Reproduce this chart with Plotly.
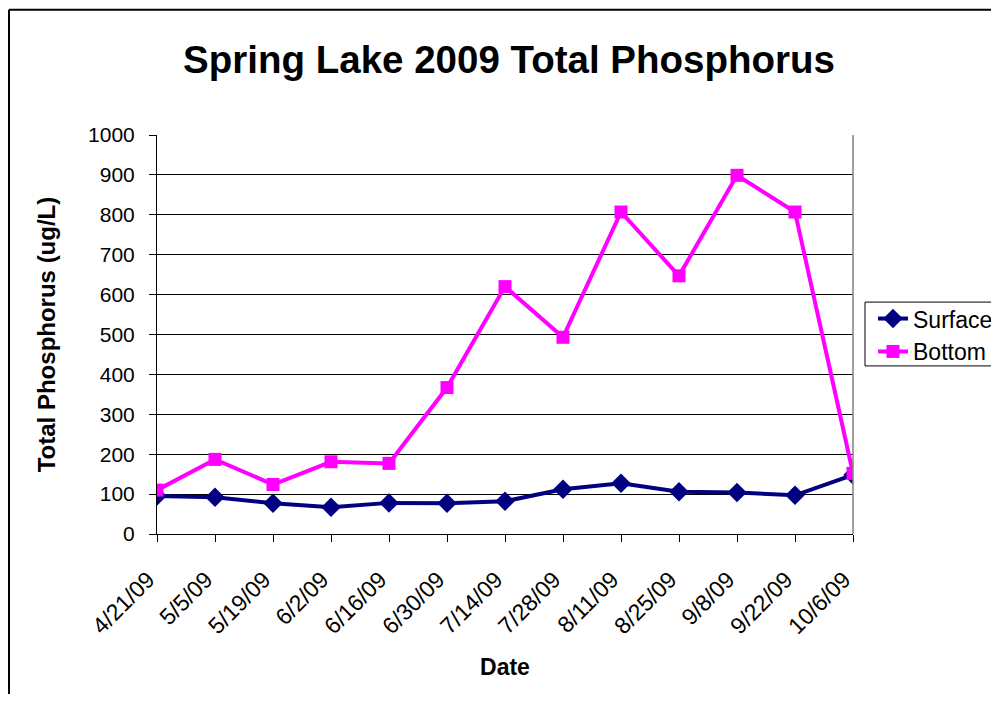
import plotly.graph_objects as go

dates = ["4/21/09", "5/5/09", "5/19/09", "6/2/09", "6/16/09", "6/30/09", "7/14/09",
         "7/28/09", "8/11/09", "8/25/09", "9/8/09", "9/22/09", "10/6/09"]
surface = [95, 92, 77, 67, 78, 77, 82, 112, 127, 106, 104, 97, 148]
bottom = [110, 187, 124, 181, 177, 367, 620, 493, 807, 647, 899, 807, 152]
y_ticks = [0, 100, 200, 300, 400, 500, 600, 700, 800, 900, 1000]

FONT = "Liberation Sans, Arial, sans-serif"

# figure geometry (page body has an 8px margin)
W, H = 991, 686
L, T = 149, 126.5
PW, PH = 696, 400
R = W - L - PW
B = H - T - PH


def px(x):  # figure pixel -> paper x
    return (x - L) / PW


def py(y):  # figure pixel -> paper y
    return (T + PH - y) / PH


fig = go.Figure()
fig.add_trace(go.Scatter(
    x=dates, y=surface, name="Surface", mode="lines+markers",
    line=dict(color="#000080", width=4),
    marker=dict(symbol="diamond", size=15, color="#000080"),
))
fig.add_trace(go.Scatter(
    x=dates, y=bottom, name="Bottom", mode="lines+markers",
    line=dict(color="#FF00FF", width=4),
    marker=dict(symbol="square", size=13, color="#FF00FF"),
))

fig.update_layout(
    width=W, height=H,
    margin=dict(l=L, r=R, t=T, b=B, pad=0, autoexpand=False),
    paper_bgcolor="white", plot_bgcolor="white",
    font=dict(family=FONT, color="black", size=21),
    title=dict(text="<b>Spring Lake 2009 Total Phosphorus</b>",
               font=dict(family=FONT, size=38.5, color="black"),
               x=(509 - 8) / W, xanchor="center", xref="container",
               y=1 - (60 - 8) / H, yanchor="middle", yref="container"),
    legend=dict(x=px(865), y=py(289), xanchor="left", yanchor="top",
                borderwidth=0, bgcolor="rgba(0,0,0,0)",
                font=dict(family=FONT, size=23, color="black"),
                tracegroupgap=0, itemwidth=30),
    showlegend=True,
)

fig.update_xaxes(
    type="category", range=[0, len(dates) - 1],
    showline=True, linecolor="black", linewidth=1,
    ticks="outside", ticklen=7, tickcolor="black", tickwidth=1,
    tickangle=-45, showgrid=False, zeroline=False,
    tickfont=dict(family=FONT, size=23, color="black"),
    ticklabelstandoff=15, ticklabelshift=-9,
    title=dict(text="<b>Date</b>", font=dict(family=FONT, size=23, color="black"), standoff=20),
)
fig.update_yaxes(
    range=[0, 1000], tickvals=y_ticks,
    showline=True, linecolor="black", linewidth=1,
    ticks="outside", ticklen=7, tickcolor="black", tickwidth=1,
    showgrid=True, gridcolor="black", gridwidth=1, zeroline=False,
    tickfont=dict(family=FONT, size=21, color="black"),
    ticklabelstandoff=10,
    title=dict(text="<b>Total Phosphorus (ug/L)</b>", font=dict(family=FONT, size=24, color="black"), standoff=25),
)

# right plot-area border (gray)
fig.add_shape(type="line", xref="paper", yref="paper", x0=1, x1=1, y0=0, y1=1,
              line=dict(color="#808080", width=1.5))
# legend box
fig.add_shape(type="rect", xref="paper", yref="paper",
              x0=px(857), x1=px(989), y0=py(294), y1=py(358),
              line=dict(color="black", width=1), fillcolor="rgba(0,0,0,0)", layer="below")
# outer chart frame (cropped): top and left edges
fig.add_shape(type="line", xref="paper", yref="paper",
              x0=px(1), x1=px(W + 20), y0=py(1), y1=py(1),
              line=dict(color="black", width=2))
fig.add_shape(type="line", xref="paper", yref="paper",
              x0=px(1), x1=px(1), y0=py(1), y1=py(H + 20),
              line=dict(color="black", width=2))

fig.write_html("out.html")
